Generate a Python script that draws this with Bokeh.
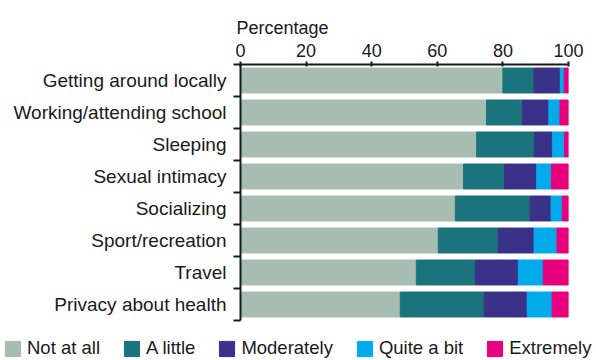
from bokeh.plotting import figure
from bokeh.layouts import column, row
from bokeh.models import Range1d, FixedTicker, Legend, LegendItem, ColumnDataSource
from bokeh.embed import file_html
from bokeh.resources import INLINE

# Activities (top to bottom) and response levels
activities = [
    "Getting around locally",
    "Working/attending school",
    "Sleeping",
    "Sexual intimacy",
    "Socializing",
    "Sport/recreation",
    "Travel",
    "Privacy about health",
]
levels = ["Not at all", "A little", "Moderately", "Quite a bit", "Extremely"]

# Percentage of respondents per level
not_at_all = [80.0, 75.0, 72.0, 68.0, 65.5, 60.3, 53.6, 48.7]
a_little = [9.5, 11.0, 17.6, 12.5, 22.8, 18.3, 18.0, 25.6]
moderately = [8.0, 8.0, 5.5, 9.8, 6.4, 10.9, 13.1, 13.1]
quite_a_bit = [1.2, 3.4, 3.7, 4.5, 3.4, 7.0, 7.6, 7.6]
extremely = [1.3, 2.6, 1.2, 5.2, 1.9, 3.5, 7.7, 5.0]

x_ticks = [0, 20, 40, 60, 80, 100]

colors = ["#a8bdb1", "#1b737b", "#3a3288", "#00aaeb", "#e6007e"]
FONT = "Liberation Sans"
TEXT = "#1a1a1a"

n = len(activities)
centers = [i + 0.5 for i in range(n)]

source = ColumnDataSource(dict(
    y=centers,
    **{
        levels[0]: not_at_all,
        levels[1]: a_little,
        levels[2]: moderately,
        levels[3]: quite_a_bit,
        levels[4]: extremely,
    }
))

p = figure(
    width=596, height=332,
    x_range=Range1d(0, 100), y_range=Range1d(n, 0),
    x_axis_location="above",
    output_backend="svg", toolbar_location=None,
    min_border_left=240, min_border_right=28,
    min_border_top=64, min_border_bottom=12,
)
p.outline_line_color = None
p.xgrid.grid_line_color = None
p.ygrid.grid_line_color = None

p.hbar_stack(levels, y="y", height=0.78, color=colors, source=source)

# Axis title above the tick labels, flush with the left edge
p.title.text = "Percentage"
p.title.align = "left"
p.title.offset = -4
p.title.standoff = 6
p.title.text_font = FONT
p.title.text_font_size = "18px"
p.title.text_font_style = "normal"
p.title.text_color = TEXT

# Top percentage axis
xa = p.xaxis[0]
xa.ticker = FixedTicker(ticks=x_ticks)
xa.axis_line_width = 2
xa.axis_line_color = TEXT
xa.major_tick_line_width = 2
xa.major_tick_line_color = TEXT
xa.major_tick_in = 2
xa.major_tick_out = 3
xa.minor_tick_line_color = None
xa.major_label_standoff = 5
xa.major_label_text_font = FONT
xa.major_label_text_font_size = "18px"
xa.major_label_text_color = TEXT

# Left category axis: labels at row centres, ticks at row boundaries
ya = p.yaxis[0]
ya.ticker = FixedTicker(ticks=centers, minor_ticks=list(range(n + 1)))
ya.major_label_overrides = {c: a for c, a in zip(centers, activities)}
ya.axis_line_width = 2
ya.axis_line_color = TEXT
ya.major_tick_line_color = None
ya.major_tick_in = 0
ya.major_tick_out = 7
ya.minor_tick_line_color = TEXT
ya.minor_tick_line_width = 2
ya.minor_tick_in = 0
ya.minor_tick_out = 7
ya.major_label_standoff = 7
ya.major_label_text_font = FONT
ya.major_label_text_font_size = "19px"
ya.major_label_text_color = TEXT

# Legend strip underneath the chart (its own axis-free figure)
lg = figure(
    width=596, height=28,
    x_range=Range1d(0, 1), y_range=Range1d(0, 1),
    x_axis_location=None, y_axis_location=None,
    output_backend="svg", toolbar_location=None,
    min_border=0, min_border_left=0, min_border_right=0,
    min_border_top=0, min_border_bottom=0,
)
lg.grid.visible = False
lg.outline_line_color = None

# Hidden copies of the stacked bars give the legend its colour swatches
swatches = lg.hbar_stack(levels, y="y", height=0.78, color=colors, source=source)
for r in swatches:
    r.visible = False

legend = Legend(
    items=[LegendItem(label=lvl, renderers=[r]) for lvl, r in zip(levels, swatches)],
    orientation="horizontal",
    location=(3, 1),
    glyph_width=19, glyph_height=19,
    label_standoff=5, spacing=22,
    padding=0, margin=0,
    label_text_font=FONT, label_text_font_size="18.5px", label_text_color=TEXT,
    border_line_color=None, background_fill_alpha=0,
    inactive_fill_alpha=0,
)
lg.add_layout(legend, "center")

# The legend strip sits in its own row so its frame spans the full width
layout = column(p, row(lg, spacing=0), spacing=0)
open("out.html", "w").write(file_html(layout, INLINE))
